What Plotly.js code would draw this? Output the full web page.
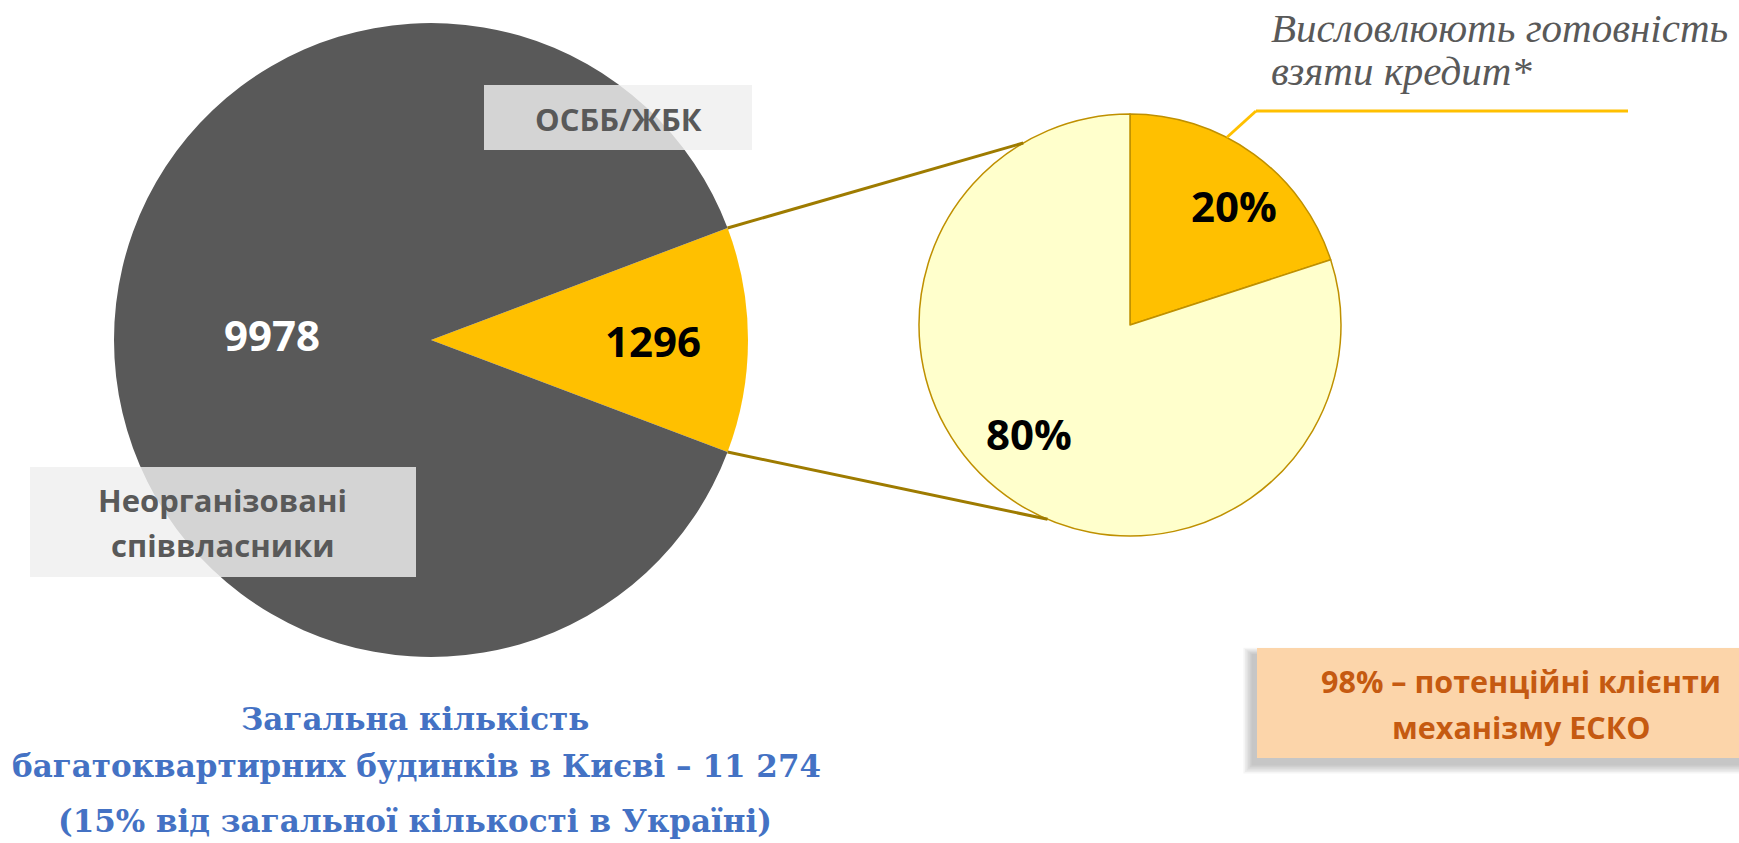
<!DOCTYPE html>
<html>
<head>
<meta charset="utf-8">
<script src="https://cdn.plot.ly/plotly-3.0.1.min.js"></script>
<style>html,body{margin:0;padding:0;background:#fff;overflow:hidden}</style>
</head>
<body>
<div id="chart" style="width:1739px;height:843px"></div>
<script>
// ---------------- DATA ----------------
const kyivCategories = ['ОСББ/ЖБК', 'Неорганізовані співвласники'];
const kyivValues = [1296, 9978];
const kyivColors = ['#FFC000', '#595959'];
const kyivTextColors = ['#000000', '#FFFFFF'];

const loanCategories = ['Висловлюють готовність взяти кредит*', 'Інші'];
const loanPercents = [20, 80];
const loanColors = ['#FFC000', '#FFFFCC'];

const calloutLines = ['Висловлюють готовність', 'взяти кредит*'];
const titleLines = ['Загальна кількість', 'багатоквартирних будинків в Києві – 11 274', '(15% від загальної кількості в Україні)'];
const eskoLines = ['98% – потенційні клієнти', 'механізму ЕСКО'];

// ---------------- LAYOUT CONSTANTS ----------------
const W = 1739, H = 843;
const BIG = {cx: 431, cy: 340, r: 317};
const SMALL = {cx: 1130, cy: 325, r: 211};
const px = x => x / W;
const py = y => 1 - y / H;
const SANS = 'Open Sans, Noto Sans, sans-serif';
const SERIF = 'DejaVu Serif, serif';
const SERIF_IT = 'Liberation Serif, serif';

const kyivTotal = kyivValues.reduce((a, b) => a + b, 0);
const loanTotal = loanPercents.reduce((a, b) => a + b, 0);
const bigRotation = 90 - 180 * kyivValues[0] / kyivTotal;

function pt(c, angDeg) { // angle clockwise from 12 o'clock
  const a = angDeg * Math.PI / 180;
  return [c.cx + c.r * Math.sin(a), c.cy - c.r * Math.cos(a)];
}
function dom(c) {
  return {x: [px(c.cx - c.r), px(c.cx + c.r)], y: [py(c.cy + c.r), py(c.cy - c.r)]};
}

const traces = [
  {
    type: 'pie',
    labels: kyivCategories,
    values: kyivValues,
    textinfo: 'none',
    marker: {colors: kyivColors, line: {width: 0}},
    sort: false,
    direction: 'clockwise',
    rotation: bigRotation,
    domain: dom(BIG),
    hoverinfo: 'skip',
    showlegend: false
  },
  {
    type: 'pie',
    labels: loanCategories,
    values: loanPercents,
    textinfo: 'none',
    marker: {colors: loanColors, line: {width: 1.5, color: '#BF9000'}},
    sort: false,
    direction: 'clockwise',
    rotation: 0,
    domain: dom(SMALL),
    hoverinfo: 'skip',
    showlegend: false
  }
];

// connector lines
const a0 = bigRotation;
const a1 = bigRotation + 360 * kyivValues[0] / kyivTotal;
const bigTop = pt(BIG, a0), bigBot = pt(BIG, a1);
const smallTop = pt(SMALL, 329.6), smallBot = pt(SMALL, 203);
const leadStart = pt(SMALL, 27.3);

const shapes = [];
function line(p, q, color, width) {
  shapes.push({type: 'line', xref: 'paper', yref: 'paper', x0: px(p[0]), y0: py(p[1]), x1: px(q[0]), y1: py(q[1]),
    line: {color: color, width: width}, layer: 'above'});
}
function rect(x0, y0, x1, y1, fill, opacity) {
  shapes.push({type: 'rect', xref: 'paper', yref: 'paper', x0: px(x0), y0: py(y1), x1: px(x1), y1: py(y0),
    fillcolor: fill, opacity: opacity === undefined ? 1 : opacity, line: {width: 0}, layer: 'above'});
}
line(bigTop, smallTop, '#9E7B00', 3);
line(bigBot, smallBot, '#9E7B00', 3);
line(leadStart, [1256, 111], '#FFC000', 3);
line([1256, 111], [1628, 111], '#FFC000', 3);

// label boxes
rect(484, 85, 752, 150, 'rgb(239,239,239)', 0.82);
rect(30, 467, 416, 577, 'rgb(239,239,239)', 0.82);

// ESCO box with soft shadow (offset down-left)
for (let k = 6; k >= 1; k--) {
  rect(1257 - 4 - k * 1.6, 648 + 7 - k * 1.2, 1745, 758 + 6 + k * 1.6, 'rgb(0,0,0)', 0.04);
}
rect(1257, 648, 1745, 758, '#FCD5AA', 1);

function ann(text, x, y, font, xanchor) {
  return {text: text, x: px(x), y: py(y), xref: 'paper', yref: 'paper', showarrow: false,
    xanchor: xanchor || 'center', yanchor: 'middle', font: font};
}
const labelFont = {family: SANS, size: 31, color: '#595959', weight: 'bold'};
const titleFont = {family: SERIF, size: 31, color: '#4472C4', weight: 'bold'};
const eskoFont = {family: SANS, size: 30.5, color: '#C55A11', weight: 'bold'};
const calloutFont = {family: SERIF_IT, size: 41, color: '#595959', style: 'italic'};
const numFont = c => ({family: SANS, size: 42, color: c, weight: 'bold'});

const annotations = [
  // data labels
  ann(String(kyivValues[1]), 272, 334, numFont(kyivTextColors[1])),
  ann(String(kyivValues[0]), 653, 341, numFont(kyivTextColors[0])),
  ann(Math.round(100 * loanPercents[0] / loanTotal) + '%', 1234, 205, numFont('#000000')),
  ann(Math.round(100 * loanPercents[1] / loanTotal) + '%', 1029, 433, numFont('#000000')),
  // category labels
  ann(kyivCategories[0], 618, 119, labelFont),
  ann('Неорганізовані', 223, 500, labelFont),
  ann('співвласники', 223, 545, labelFont),
  // callout
  ann(calloutLines[0], 1269, 28, calloutFont, 'left'),
  ann(calloutLines[1], 1269, 71, calloutFont, 'left'),
  // title
  ann(titleLines[0], 415, 719, titleFont),
  ann(titleLines[1], 416, 766, titleFont),
  ann(titleLines[2], 415, 821, titleFont),
  // ESCO box
  ann(eskoLines[0], 1521, 681, eskoFont),
  ann(eskoLines[1], 1521, 727, eskoFont)
];

const layout = {
  width: W, height: H,
  margin: {l: 0, r: 0, t: 0, b: 0},
  paper_bgcolor: '#FFFFFF',
  plot_bgcolor: '#FFFFFF',
  showlegend: false,
  shapes: shapes,
  annotations: annotations
};

Plotly.newPlot('chart', traces, layout, {displayModeBar: false, staticPlot: true});
</script>
</body>
</html>
